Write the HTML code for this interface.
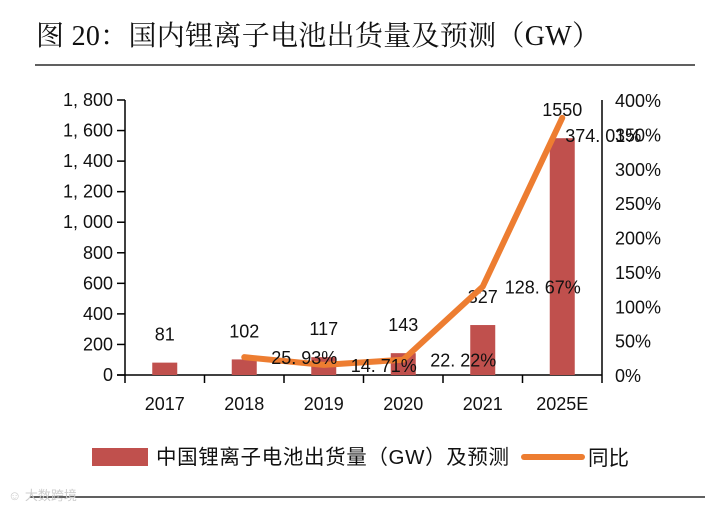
<!DOCTYPE html>
<html><head><meta charset="utf-8">
<style>
body{margin:0;background:#fff;width:715px;height:511px;overflow:hidden;font-family:"Liberation Sans","Noto Sans CJK SC",sans-serif}
</style></head>
<body>
<svg id="c" width="715" height="511" xmlns="http://www.w3.org/2000/svg">
<text x="36" y="45" font-size="28" fill="#111" textLength="564" font-family="Liberation Serif,Noto Serif CJK SC,serif">图 20：国内锂离子电池出货量及预测（GW）</text>
<line x1="35" y1="65" x2="695" y2="65" stroke="#000" stroke-width="1.2"/>
<line x1="30" y1="497" x2="705" y2="497" stroke="#000" stroke-width="1.2"/>
<text x="8" y="500" font-size="13" fill="#ccc">☺ 大数跨境</text>
<g id="plot"></g>
<g>
<rect x="92" y="448" width="56" height="18" fill="#c0504d"/>
<text x="156" y="464" font-size="20.5" fill="#111" textLength="353">中国锂离子电池出货量（GW）及预测</text>
<line x1="524" y1="457" x2="582" y2="457" stroke="#ed7d31" stroke-width="6" stroke-linecap="round"/>
<text x="588" y="465" font-size="20.5" fill="#111">同比</text>
</g>
</svg>
<script>
const categories=["2017","2018","2019","2020","2021","2025E"];
const shipments=[81,102,117,143,327,1550];
const growth=[null,25.93,14.71,22.22,128.67,374.01];
const growthLabels=["","25.93%","14.71%","22.22%","128.67%","374.01%"];
const leftTicks=[0,200,400,600,800,1000,1200,1400,1600,1800];
const rightTicks=[0,50,100,150,200,250,300,350,400];
const NS="http://www.w3.org/2000/svg";
const g=document.getElementById('plot');
const X0=125,X1=602,Y0=375,Y1=100;
const bw=(X1-X0)/categories.length;
const xc=i=>X0+bw*(i+0.5);
const yL=v=>Y0-(v/1800)*(Y0-Y1);
const yR=v=>Y0-(v/400)*(Y0-Y1);
function el(t,a,txt){const e=document.createElementNS(NS,t);for(const k in a)e.setAttribute(k,a[k]);if(txt!=null)e.textContent=txt;g.appendChild(e);return e;}
let a=el('line',{x1:X0,y1:Y1,x2:X0,y2:Y0,stroke:'#000','stroke-width':1.5});


a=el('line',{x1:X1,y1:Y1,x2:X1,y2:Y0,stroke:'#000','stroke-width':1.5});


a=el('line',{x1:X0-8,y1:Y0,x2:X1,y2:Y0,stroke:'#000','stroke-width':1.5});


leftTicks.forEach(v=>{
  const y=yL(v);
  const t=el('line',{x1:X0-8,y1:y,x2:X0,y2:y,stroke:'#000','stroke-width':1.5});
  
  
  const s=el('text',{x:X0-12,y:y+6,'font-size':18,'text-anchor':'end',fill:'#111'},v.toLocaleString('en-US').replace(',',', '));
  
  
});
rightTicks.forEach(v=>{
  const s=el('text',{x:X1+13,y:yR(v)+7,'font-size':18,fill:'#111'},v+'%');
  
  
});
for(let i=0;i<=categories.length;i++){
  const t=el('line',{x1:X0+bw*i,y1:Y0,x2:X0+bw*i,y2:Y0+8,stroke:'#000','stroke-width':1.5});
  
  
}
categories.forEach((c,i)=>{
  const s=el('text',{x:xc(i),y:410,'font-size':18,'text-anchor':'middle',fill:'#111'},c);
  
  
  const b=el('rect',{x:xc(i)-12.5,y:yL(shipments[i]),width:25,height:Y0-yL(shipments[i]),fill:'#c0504d'});
  
  
  const l=el('text',{x:xc(i),y:yL(shipments[i])-22,'font-size':18,'text-anchor':'middle',fill:'#111'},shipments[i]);
  
  
});
let pts=[];
growth.forEach((v,i)=>{if(v!=null)pts.push(xc(i)+','+yR(v));});
const pl=el('polyline',{points:pts.join(' '),fill:'none',stroke:'#ed7d31','stroke-width':6,'stroke-linejoin':'round','stroke-linecap':'round'});


growth.forEach((v,i)=>{if(v==null)return;
  const last=i===categories.length-1;
  const s=el('text',{x:last?xc(i)+3:xc(i)+60,y:(last?yR(v)+24:yR(v)+7),'font-size':18,'text-anchor':last?'start':'middle',fill:'#111'},growthLabels[i].replace('.','. '));
  
  
});
</script>
</body></html>
